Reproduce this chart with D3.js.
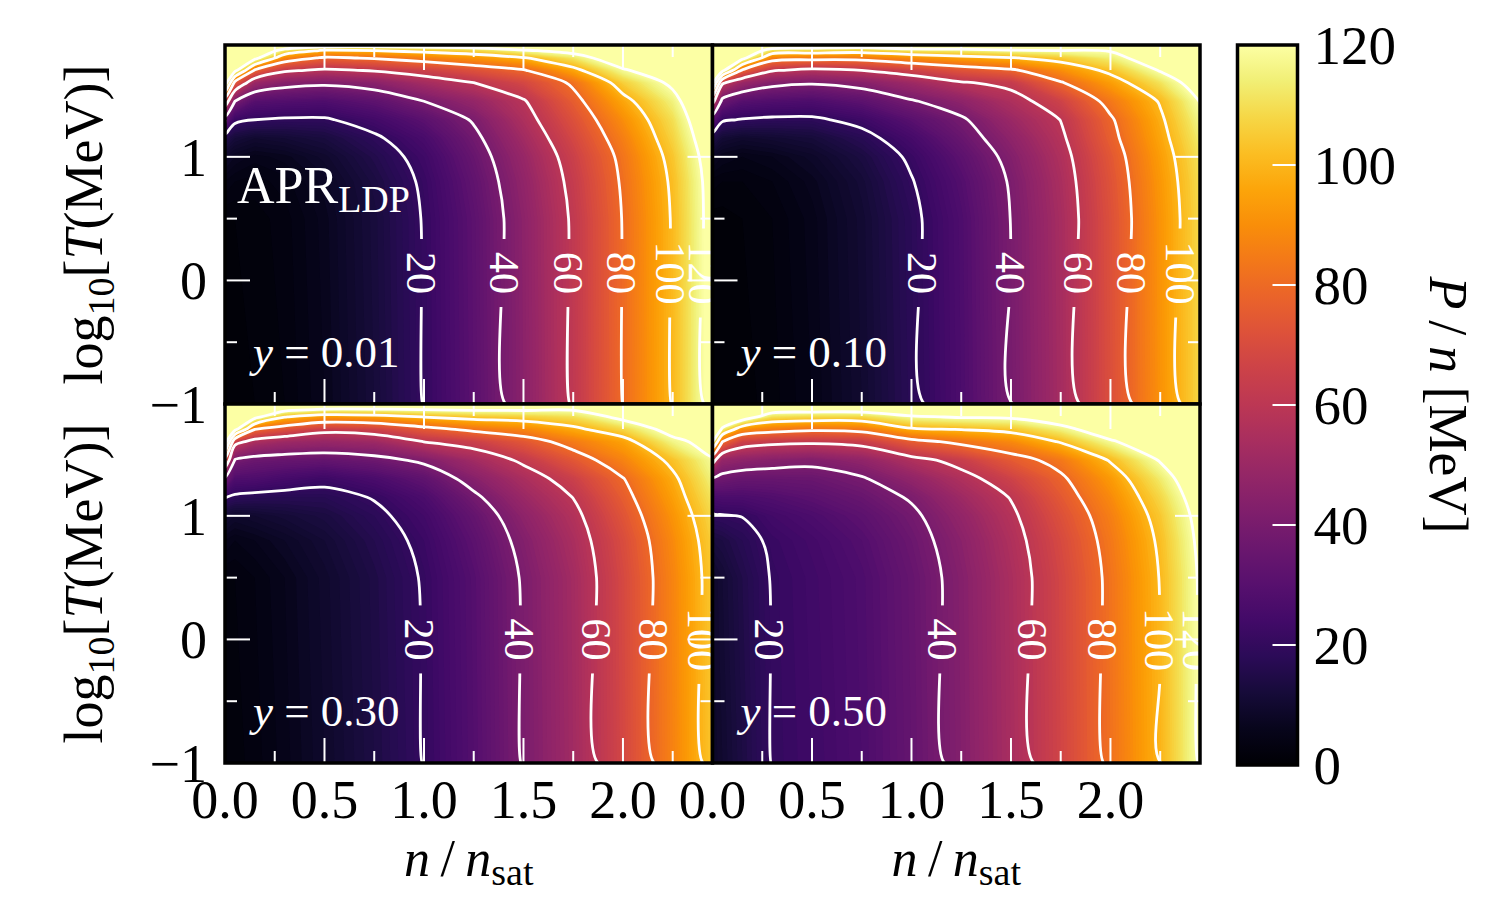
<!DOCTYPE html>
<html>
<head>
<meta charset="utf-8">
<script src="https://cdn.jsdelivr.net/npm/d3@7"></script>
<style>
  body { margin: 0; background: #fff; }
  text { font-family: "Liberation Serif", "Times New Roman", serif; }
</style>
</head>
<body>
<svg id="chart" width="1500" height="900"></svg>
<script>
// grid of the tables: columns are n/nsat, rows are log10(T/MeV)
const nGrid = [0, 0.05, 0.15, 0.3, 0.5, 0.75, 1.0, 1.25, 1.5, 1.75, 2.0, 2.25, 2.45];
const logTGrid = [-1, 0.5, 0.8, 1.0, 1.15, 1.3, 1.45, 1.6, 1.7, 1.8, 1.86, 1.905];

// P/n [MeV], one line per n column, values along logTGrid
const pnY001 = [
  [1, 2, 5, 9, 16, 34, 70, 130, 160, 165, 170, 175],
  [1, 2, 4, 7, 12, 22, 40, 75, 125, 150, 155, 160],
  [2, 2.5, 3.5, 5.5, 10, 20, 30, 50, 78, 125, 140, 150],
  [3, 3.5, 4.5, 6.5, 11, 19, 29, 44, 62, 88, 112, 140],
  [6, 6.5, 7.5, 9.5, 13, 19, 28, 42, 58, 78, 98, 130],
  [12, 12.5, 13.5, 15.5, 18.5, 24, 32, 45, 61, 81, 100, 128],
  [20.2, 20.5, 21.3, 23, 26, 31, 40, 53, 66, 86, 104, 130],
  [31, 31.5, 33, 35, 37.5, 41, 48, 60, 72, 92, 108, 132],
  [45, 45.5, 47, 49, 52, 55.5, 59, 68, 79, 99, 118, 140],
  [61, 61.5, 63, 65, 68, 71.5, 76, 82, 96, 112, 126, 145],
  [80.2, 80.5, 81.5, 83, 86, 90, 96, 106, 118, 132, 142, 150],
  [100.5, 101, 102, 104, 107, 110, 115, 123, 132, 145, 152, 160],
  [125, 125.5, 126, 128, 131, 135, 140, 147, 153, 160, 165, 170]
];
const pnY010 = [
  [1, 1.5, 3.5, 8, 15, 32, 65, 125, 155, 160, 165, 170],
  [1, 1.5, 3, 6, 11, 21, 36, 62, 125, 150, 155, 160],
  [1.5, 2, 3, 5, 9.5, 19.5, 30, 50, 78, 125, 140, 150],
  [2.5, 3, 4, 6, 10.5, 18.5, 28.5, 43, 61, 86, 110, 138],
  [5, 5.5, 6.5, 8.5, 12, 18.5, 27.5, 41, 57, 84, 108, 135],
  [10, 10.5, 11.5, 13.5, 17, 22.5, 31.5, 44, 60, 84, 106, 132],
  [17.5, 18, 19.5, 21.5, 25, 30.5, 39, 51, 66, 90, 112, 138],
  [27, 27.5, 29, 31.5, 35, 38.5, 46, 59, 73, 95, 114, 138],
  [39.5, 40.2, 41, 43, 46, 50, 55.5, 63, 78, 99, 118, 140],
  [53, 53.5, 54.5, 56, 58, 60.2, 66, 79, 90, 105, 120, 140],
  [71, 71.5, 72.5, 74, 76.5, 78.5, 84, 94, 103, 114, 121, 135],
  [91, 91.5, 92.5, 94, 96, 98, 101, 111, 121, 131, 138, 145],
  [108, 108.5, 109.5, 111, 113.5, 116.5, 120.5, 128, 136, 145, 150, 158]
];
const pnY030 = [
  [2, 3, 6, 11, 20.2, 38, 75, 130, 160, 165, 170, 175],
  [2.5, 3, 5, 9, 18.5, 28, 39, 65, 125, 150, 155, 160],
  [3.5, 4, 6, 10, 17.5, 27.5, 36, 55, 80, 125, 140, 150],
  [5.5, 6, 8, 11.5, 17, 25, 35, 51, 72, 100.5, 125, 145],
  [9, 9.5, 11, 13.5, 17, 22.5, 34, 49, 64, 92, 118, 140],
  [14, 14.5, 16, 18, 20.5, 26.5, 36.5, 51, 66, 94, 118, 140],
  [20.2, 20.7, 22, 24, 27, 32.5, 42, 60.2, 75, 100.2, 120.2, 140],
  [29, 29.5, 31.5, 34, 38, 44, 52, 65, 83, 104, 122, 140],
  [40.5, 41, 43, 46, 50, 54.5, 62, 74, 88, 106, 122, 140],
  [52, 52.5, 54.5, 57, 60.2, 65, 74, 85, 97, 110, 121, 140],
  [68, 68.5, 70, 73, 76, 79.5, 87, 95, 108, 124, 133, 145],
  [87, 87.5, 89, 91.5, 94.5, 97.5, 103, 116, 126, 138, 145, 150],
  [104, 104.5, 106, 108.5, 111.5, 115, 118.5, 126, 134, 145, 150, 155]
];
const pnY050 = [
  [8, 9, 13, 19, 26, 38, 65, 120.5, 155, 165, 170, 175],
  [10, 11, 14, 19.5, 27, 37, 48, 80, 115, 150, 155, 160],
  [14, 15, 17, 20.2, 27, 35, 46, 66, 90, 130, 145, 155],
  [20.2, 20.5, 21.5, 24, 28.5, 35, 44, 63, 85, 110, 128, 150],
  [23, 23.5, 24.5, 27, 31, 35.5, 42.5, 62, 82, 108, 126, 148],
  [27, 27.5, 29, 31.5, 35, 39, 47, 64, 84, 108, 126, 148],
  [34, 34.5, 36, 38, 41, 47, 56, 76, 98, 118, 132, 150],
  [43, 43.5, 45, 47.5, 51, 56, 64, 83, 100.5, 121, 135, 150],
  [54, 54.5, 56, 58, 60.5, 66, 75, 89, 104, 122, 136, 150],
  [67, 67.5, 69, 71.5, 74.5, 78, 84, 101, 115, 130, 140, 150],
  [82, 82.5, 84, 86, 89, 93, 101, 118, 130, 140, 148, 155],
  [99.5, 100.5, 102, 104.5, 108, 113, 121, 132, 140, 148, 152, 158],
  [121, 121.5, 123, 125, 128, 132, 138, 145, 150, 155, 160, 165]
];

const yFractions = ["0.01", "0.10", "0.30", "0.50"];
const contourLevels = [20, 40, 60, 80, 100, 120];
const xTickLabels = [0, 0.5, 1.0, 1.5, 2.0];
const yTickLabels = [1, 0, -1];
const cbarTicks = [0, 20, 40, 60, 80, 100, 120];

const svg = d3.select("#chart");
const defs = svg.append("defs");
const W = 487.5, H = 359;
const xDomain = [0, 2.45], yDomain = [-1, 1.905];
const color = d3.scaleSequential(d3.interpolateInferno).domain([0, 120]).clamp(true);

const panels = [
  {table: pnY001, yf: yFractions[0], px: 225, py: 45, labelT: 0.06},
  {table: pnY010, yf: yFractions[1], px: 712.5, py: 45, labelT: 0.06},
  {table: pnY030, yf: yFractions[2], px: 225, py: 404, labelT: 0},
  {table: pnY050, yf: yFractions[3], px: 712.5, py: 404, labelT: 0}
];

// grid index -> data coordinate (d3.contours puts value i at i + 0.5)
const nx = nGrid.length, ny = logTGrid.length;
const gx = d3.scaleLinear()
  .domain([0, ...nGrid.map((d, i) => i + 0.5), nx])
  .range([nGrid[0], ...nGrid, nGrid[nx - 1]]);
const gy = d3.scaleLinear()
  .domain([0, ...logTGrid.map((d, i) => i + 0.5), ny])
  .range([logTGrid[0], ...logTGrid, logTGrid[ny - 1]]);

const smoothLine = d3.line().curve(d3.curveCatmullRom.alpha(0.5));

// split contour rings into open pieces, dropping the parts that run along the panel edge
function ringPieces(mp) {
  const out = [];
  const onEdge = p => p[0] <= 0 || p[0] >= nx || p[1] <= 0 || p[1] >= ny;
  mp.coordinates.forEach(poly => poly.forEach(ring => {
    const pts = ring.slice(0, -1);
    const m = pts.length;
    const edgeSeg = i => {
      const a = pts[i], b = pts[(i + 1) % m];
      return onEdge(a) && onEdge(b) && (a[0] === b[0] || a[1] === b[1]);
    };
    let start = -1;
    for (let i = 0; i < m; i++) if (edgeSeg(i)) { start = i; break; }
    if (start < 0) { out.push([...pts, pts[0]]); return; }
    let cur = null;
    for (let s = 1; s <= m; s++) {
      const i = (start + s) % m;
      if (edgeSeg(i)) {
        if (cur) { out.push(cur); cur = null; }
      } else {
        if (!cur) cur = [pts[i]];
        cur.push(pts[(i + 1) % m]);
      }
    }
    if (cur) out.push(cur);
  }));
  return out;
}

function addRich(sel, parts, size, subSize, subShift) {
  let shift = 0;
  parts.forEach(pt => {
    const want = pt.sub ? subShift : 0;
    const ts = sel.append("tspan").text(pt.t)
      .attr("font-size", pt.sub ? subSize : size)
      .attr("dy", want - shift);
    if (pt.it) ts.attr("font-style", "italic");
    shift = want;
  });
}

panels.forEach((p, k) => {
  const x = d3.scaleLinear().domain(xDomain).range([p.px, p.px + W]);
  const y = d3.scaleLinear().domain(yDomain).range([p.py + H, p.py]);

  const values = [];
  for (let j = 0; j < ny; j++) for (let i = 0; i < nx; i++) values.push(p.table[i][j]);

  const contours = d3.contours().size([nx, ny]);
  const path = d3.geoPath(d3.geoTransform({
    point(u, v) { this.stream.point(x(gx(u)), y(gy(v))); }
  }));

  defs.append("clipPath").attr("id", "clip" + k)
    .append("rect").attr("x", p.px).attr("y", p.py).attr("width", W).attr("height", H);

  // filled map
  const heat = svg.append("g").attr("clip-path", `url(#clip${k})`);
  d3.range(0, 121, 1).forEach(t => {
    heat.append("path")
      .attr("d", path(contours.contour(values, t)))
      .attr("fill", color(t + 0.5));
  });

  // gaps in the lines under the labels
  const mask = defs.append("mask").attr("id", "gap" + k)
    .attr("maskUnits", "userSpaceOnUse")
    .attr("x", 0).attr("y", 0).attr("width", 1500).attr("height", 900);
  mask.append("rect").attr("width", 1500).attr("height", 900).attr("fill", "white");

  const lines = svg.append("g").attr("clip-path", `url(#clip${k})`)
    .append("g").attr("mask", `url(#gap${k})`);
  contourLevels.forEach(L => {
    ringPieces(contours.contour(values, L)).forEach(piece => {
      lines.append("path")
        .attr("d", smoothLine(piece.map(q => [x(gx(q[0])), y(gy(q[1]))])))
        .attr("fill", "none")
        .attr("stroke", "white")
        .attr("stroke-width", 2.8)
        .attr("stroke-linejoin", "round");
    });
  });

  // inline labels
  const labels = svg.append("g").attr("clip-path", `url(#clip${k})`);
  const f = (p.labelT - logTGrid[0]) / (logTGrid[1] - logTGrid[0]);
  const row = p.table.map(c => c[0] + (c[1] - c[0]) * f);
  contourLevels.forEach(L => {
    for (let i = 0; i < nx - 1; i++) {
      const a = row[i], b = row[i + 1];
      if (a < L && b >= L) {
        const n = nGrid[i] + (L - a) / (b - a) * (nGrid[i + 1] - nGrid[i]);
        const lx = x(n), ly = y(p.labelT);
        const txt = labels.append("text")
          .attr("transform", `translate(${lx},${ly}) rotate(90)`)
          .attr("text-anchor", "middle")
          .attr("dy", "0.35em")
          .attr("font-size", 42)
          .attr("fill", "white")
          .text(L);
        const len = txt.node().getComputedTextLength();
        mask.append("rect")
          .attr("x", lx - 12).attr("y", ly - len / 2 - 13)
          .attr("width", 24).attr("height", len + 26)
          .attr("fill", "black");
        break;
      }
    }
  });

  // ticks on all four sides, pointing in
  const tk = svg.append("g").attr("stroke", "white").attr("stroke-width", 2);
  d3.range(1, 10).forEach(i => {
    const v = i * 0.25;
    const len = i % 2 === 0 ? 25 : 12;
    tk.append("line").attr("x1", x(v)).attr("x2", x(v)).attr("y1", p.py + H).attr("y2", p.py + H - len);
    tk.append("line").attr("x1", x(v)).attr("x2", x(v)).attr("y1", p.py).attr("y2", p.py + len);
  });
  [-0.5, 0, 0.5, 1].forEach(v => {
    const len = Number.isInteger(v) ? 25 : 12;
    tk.append("line").attr("x1", p.px).attr("x2", p.px + len).attr("y1", y(v)).attr("y2", y(v));
    tk.append("line").attr("x1", p.px + W).attr("x2", p.px + W - len).attr("y1", y(v)).attr("y2", y(v));
  });

  svg.append("rect")
    .attr("x", p.px).attr("y", p.py).attr("width", W).attr("height", H)
    .attr("fill", "none").attr("stroke", "black").attr("stroke-width", 3.5);

  // panel note
  const note = svg.append("text")
    .attr("x", p.px + 28).attr("y", p.py + 322)
    .attr("fill", "white");
  addRich(note, [{t: "y", it: true}, {t: "\u2005=\u2005" + p.yf}], 45, 45, 0);

  if (k === 0) {
    const apr = svg.append("text").attr("x", p.px + 12).attr("y", p.py + 158).attr("fill", "white");
    addRich(apr, [{t: "APR"}, {t: "LDP", sub: true}], 52, 38, 9);
  }

  // tick labels and axis titles
  if (p.px < 300) {
    yTickLabels.forEach(v => {
      svg.append("text")
        .attr("x", 207).attr("y", y(v)).attr("dy", "0.35em")
        .attr("text-anchor", "end").attr("font-size", 54)
        .text(v < 0 ? "\u2212" + Math.abs(v) : v);
    });
    const yt = svg.append("text")
      .attr("transform", `translate(102,${p.py + H / 2}) rotate(-90)`)
      .attr("text-anchor", "middle");
    addRich(yt, [{t: "log"}, {t: "10", sub: true}, {t: "["}, {t: "T", it: true}, {t: "(MeV)]"}], 54, 38, 12);
  }
  if (p.py > 300) {
    xTickLabels.forEach(v => {
      svg.append("text")
        .attr("x", x(v)).attr("y", p.py + H + 55)
        .attr("text-anchor", "middle").attr("font-size", 54)
        .text(d3.format(".1f")(v));
    });
    const xt = svg.append("text")
      .attr("x", p.px + W / 2).attr("y", p.py + H + 113)
      .attr("text-anchor", "middle");
    addRich(xt, [{t: "n", it: true}, {t: "\u2009/\u2009"}, {t: "n", it: true}, {t: "sat", sub: true}], 52, 38, 9);
  }
});

// colour bar
const cb = {x: 1237.5, y: 45, w: 60, h: 720};
const grad = defs.append("linearGradient").attr("id", "cbar")
  .attr("x1", 0).attr("y1", 1).attr("x2", 0).attr("y2", 0);
d3.range(0, 21).forEach(i => {
  grad.append("stop").attr("offset", i / 20).attr("stop-color", color(i * 6));
});
const cy = d3.scaleLinear().domain([0, 120]).range([cb.y + cb.h, cb.y]);
svg.append("rect").attr("x", cb.x).attr("y", cb.y).attr("width", cb.w).attr("height", cb.h)
  .attr("fill", "url(#cbar)");
cbarTicks.slice(1, -1).forEach(v => {
  svg.append("line").attr("x1", cb.x + cb.w - 25).attr("x2", cb.x + cb.w)
    .attr("y1", cy(v)).attr("y2", cy(v))
    .attr("stroke", "white").attr("stroke-width", 2);
});
svg.append("rect").attr("x", cb.x).attr("y", cb.y).attr("width", cb.w).attr("height", cb.h)
  .attr("fill", "none").attr("stroke", "black").attr("stroke-width", 3.5);
cbarTicks.forEach(v => {
  svg.append("text").attr("x", cb.x + cb.w + 16).attr("y", cy(v)).attr("dy", "0.35em")
    .attr("font-size", 55).text(v);
});
const ct = svg.append("text")
  .attr("transform", `translate(1430,${cb.y + cb.h / 2}) rotate(90)`)
  .attr("text-anchor", "middle");
addRich(ct, [{t: "P", it: true}, {t: "\u2009/\u2009"}, {t: "n", it: true}, {t: " [MeV]"}], 54, 54, 0);
</script>
</body>
</html>
